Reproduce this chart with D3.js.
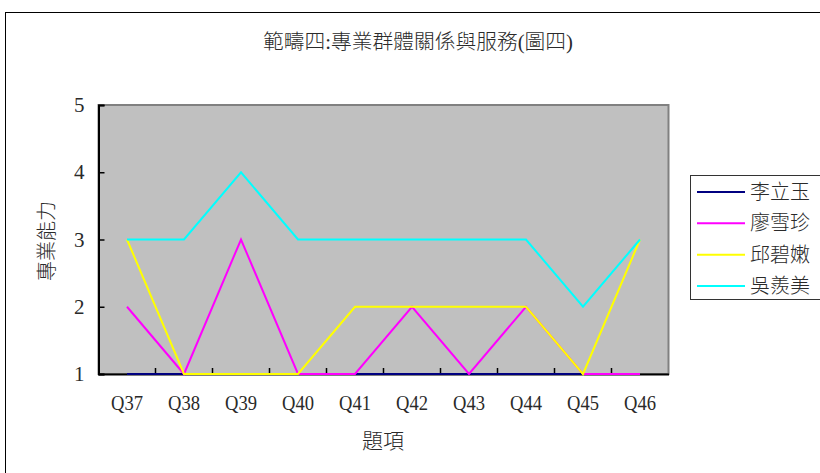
<!DOCTYPE html>
<html>
<head>
<meta charset="utf-8">
<script src="https://cdn.jsdelivr.net/npm/d3@7/dist/d3.min.js"></script>
<style>
  html, body { margin: 0; padding: 0; background: #fff; }
  svg { display: block; }
</style>
</head>
<body>
<svg id="chart" width="820" height="473"></svg>
<script>
const categories = ["Q37","Q38","Q39","Q40","Q41","Q42","Q43","Q44","Q45","Q46"];
const seriesNames = ["李立玉","廖雪珍","邱碧嫩","吳羨美"];
const seriesColors = ["#000080","#FF00FF","#FFFF00","#00FFFF"];
const valuesLi   = [1,1,1,1,1,1,1,1,1,1];
const valuesLiao = [2,1,3,1,1,2,1,2,1,1];
const valuesQiu  = [3,1,1,1,2,2,2,2,1,3];
const valuesWu   = [3,3,4,3,3,3,3,3,2,3];
const yTicks = [1,2,3,4,5];
const titleText = "範疇四:專業群體關係與服務(圖四)";
const yTitle = "專業能力";
const xTitle = "題項";

const series = [valuesLi, valuesLiao, valuesQiu, valuesWu].map((v,i)=>({name:seriesNames[i], color:seriesColors[i], values:v}));

const svg = d3.select("#chart");
const plot = {left: 98.5, right: 668.5, top: 105, bottom: 374};
const cjk = "'Noto Sans CJK TC', 'Noto Sans CJK SC', sans-serif";
const serif = "'Liberation Serif', 'DejaVu Serif', serif";
const mixed = "'Liberation Serif', 'Noto Sans CJK TC', serif";
const txt = "#2a2a2a";

// outer chart border
svg.append("rect").attr("x",5.5).attr("y",12.5).attr("width",900).attr("height",600)
  .attr("fill","#fff").attr("stroke","#000").attr("stroke-width",1);

const x = d3.scaleBand().domain(categories).range([plot.left, plot.right]).paddingInner(0).paddingOuter(0);
const y = d3.scaleLinear().domain([1,5]).range([plot.bottom, plot.top]);
const cx = d => x(d) + x.bandwidth()/2;

// plot area
svg.append("rect").attr("x",plot.left).attr("y",plot.top)
  .attr("width",plot.right-plot.left).attr("height",plot.bottom-plot.top)
  .attr("fill","#C0C0C0").attr("stroke","#808080").attr("stroke-width",2);

// y axis
const yAxis = d3.axisLeft(y).tickValues(yTicks).tickSize(-6).tickPadding(14).tickFormat(d3.format("d"));
const gy = svg.append("g").attr("transform",`translate(${plot.left},0)`).call(yAxis);
gy.select(".domain").attr("stroke","#000").attr("stroke-width",2);
gy.selectAll(".tick line").attr("stroke","#000").attr("stroke-width",1.5);
gy.selectAll(".tick text").attr("font-family",serif).attr("font-size",21).attr("fill",txt);

// x axis (labels)
const xAxis = d3.axisBottom(x).tickSize(0).tickPadding(22);
const gx = svg.append("g").attr("transform",`translate(0,${plot.bottom})`).call(xAxis);
gx.select(".domain").attr("stroke","#000").attr("stroke-width",2);
gx.selectAll(".tick text").attr("font-family",serif).attr("font-size",20).attr("fill",txt)
  .attr("textLength",32).attr("lengthAdjust","spacingAndGlyphs");
// inward tick marks at category boundaries
svg.append("g").selectAll("line").data(categories.slice(1)).join("line")
  .attr("x1",d=>x(d)).attr("x2",d=>x(d))
  .attr("y1",plot.bottom).attr("y2",plot.bottom-6)
  .attr("stroke","#000").attr("stroke-width",1.5);

// series lines (drawn over the axes)
const line = d3.line().x((d,i)=>cx(categories[i])).y(d=>y(d));
series.forEach(s=>{
  svg.append("path").datum(s.values).attr("d",line)
    .attr("fill","none").attr("stroke",s.color).attr("stroke-width",2)
    .attr("stroke-linejoin","miter");
});

// title
svg.append("text").attr("x",418).attr("y",49).attr("text-anchor","middle")
  .attr("font-family",mixed).attr("font-size",20).attr("font-weight",300).attr("fill",txt)
  .attr("textLength",310).attr("lengthAdjust","spacingAndGlyphs").text(titleText);

// axis titles
svg.append("text").attr("transform","translate(54,241) rotate(-90)").attr("text-anchor","middle")
  .attr("font-family",cjk).attr("font-size",20).attr("font-weight",300).attr("fill",txt).text(yTitle);
svg.append("text").attr("x",383).attr("y",448).attr("text-anchor","middle")
  .attr("font-family",cjk).attr("font-size",21).attr("font-weight",300).attr("fill",txt).text(xTitle);

// legend
const lg = svg.append("g");
lg.append("rect").attr("x",690.5).attr("y",175.5).attr("width",200).attr("height",124)
  .attr("fill","#fff").attr("stroke","#333").attr("stroke-width",1);
const ly = d3.scalePoint().domain(seriesNames).range([192,286]);
series.forEach(s=>{
  lg.append("line").attr("x1",697).attr("x2",745).attr("y1",ly(s.name)).attr("y2",ly(s.name))
    .attr("stroke",s.color).attr("stroke-width",2);
  lg.append("text").attr("x",750).attr("y",ly(s.name)+7)
    .attr("font-family",cjk).attr("font-size",20).attr("font-weight",300).attr("fill",txt).text(s.name);
});
</script>
</body>
</html>
